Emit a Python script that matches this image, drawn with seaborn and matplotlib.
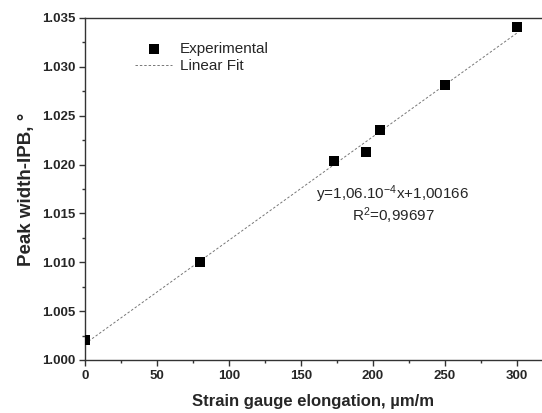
import pandas as pd
import matplotlib
matplotlib.use('Agg')
import matplotlib.pyplot as plt
import seaborn as sns
from matplotlib.ticker import MultipleLocator, FormatStrFormatter

# data
elongation = [0, 80, 173, 195, 205, 250, 300]
peak_width = [1.0020, 1.0100, 1.0204, 1.0213, 1.0235, 1.0281, 1.0341]
fit_slope = 1.06e-4
fit_intercept = 1.00166
fit_x = [0, 300]

sns.set_style('ticks')
plt.rcParams['font.family'] = ['Liberation Sans', 'DejaVu Sans']
plt.rcParams['mathtext.fontset'] = 'custom'
plt.rcParams['mathtext.rm'] = 'Liberation Sans'
plt.rcParams['mathtext.it'] = 'Liberation Sans'

df = pd.DataFrame({'x': elongation, 'y': peak_width})
fit = pd.DataFrame({'x': fit_x, 'y': [fit_slope * v + fit_intercept for v in fit_x]})

fig = plt.figure(figsize=(5.42, 4.13), dpi=100)
ax = fig.add_axes([85 / 542, 53 / 413, (542 - 85) / 542, (360 - 18) / 413])

sns.lineplot(data=fit, x='x', y='y', ax=ax, color='#777777', lw=0.7,
             linestyle=(0, (2.5, 2)), label='Linear Fit')
sns.scatterplot(data=df, x='x', y='y', ax=ax, marker='s', s=48, color='black',
                edgecolor='black', linewidth=0, label='Experimental', zorder=3)

ax.set_xlim(0, 317.4)
ax.set_ylim(1.000, 1.035)
ax.xaxis.set_major_locator(MultipleLocator(50))
ax.xaxis.set_minor_locator(MultipleLocator(25))
ax.yaxis.set_major_locator(MultipleLocator(0.005))
ax.yaxis.set_minor_locator(MultipleLocator(0.0025))
ax.yaxis.set_major_formatter(FormatStrFormatter('%.3f'))
ax.xaxis.set_major_formatter(FormatStrFormatter('%d'))

# right spine is cut off in the original image
for s in ['left', 'bottom', 'top']:
    ax.spines[s].set_color('#333333')
    ax.spines[s].set_linewidth(1.0)
ax.spines['right'].set_visible(False)
ax.tick_params(which='major', length=4, width=1, color='#333333', labelsize=9.5, pad=3)
ax.tick_params(which='minor', length=2.5, width=1, color='#333333')
for lab in ax.get_xticklabels() + ax.get_yticklabels():
    lab.set_fontweight('bold')

ax.set_xlabel('Strain gauge elongation, \u00b5m/m', fontsize=12, fontweight='bold')
ax.xaxis.set_label_coords(0.5, -(394 - 360) / 342)
ax.set_ylabel('Peak width-IPB, \u00b0', fontsize=13.5, fontweight='bold')
ax.yaxis.set_label_coords(-0.11, 0.5)

handles, labels = ax.get_legend_handles_labels()
order = [labels.index('Experimental'), labels.index('Linear Fit')]
ax.legend([handles[i] for i in order], [labels[i] for i in order],
          loc='upper left', bbox_to_anchor=(0.08, 0.97), frameon=False,
          fontsize=11, handlelength=2.4, handletextpad=0.5, labelspacing=0.2)

fig.text(316 / 542, 1 - 194 / 413, 'y=1,06.10$^{-4}$x+1,00166', fontsize=11,
         va='center', ha='left')
fig.text(352 / 542, 1 - 216 / 413, 'R$^{2}$=0,99697', fontsize=11,
         va='center', ha='left')

fig.savefig('out.png', dpi=100)
